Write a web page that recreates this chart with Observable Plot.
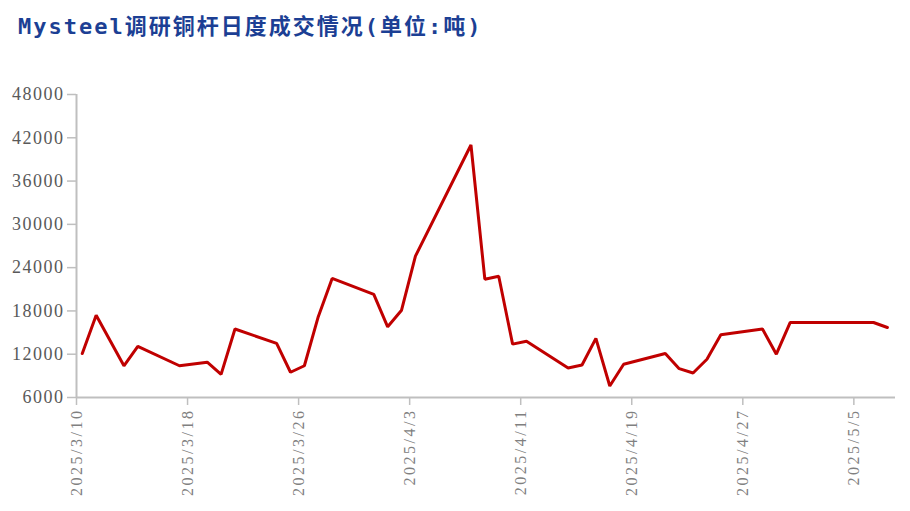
<!DOCTYPE html>
<html>
<head>
<meta charset="utf-8">
<script src="https://cdn.jsdelivr.net/npm/d3@7"></script>
<script src="https://cdn.jsdelivr.net/npm/@observablehq/plot@0.6"></script>
<style>
  html, body { margin: 0; padding: 0; background: #ffffff; }
  #wrap { width: 910px; height: 511px; position: relative; overflow: hidden; }
  #title {
    position: absolute; left: 18px; top: 8px;
    font-family: "DejaVu Sans Mono", "Noto Sans CJK SC", monospace;
    font-weight: bold; font-size: 22px; letter-spacing: 2px;
    color: #1c3f94; white-space: nowrap;
  }
  #chart { position: absolute; left: 0; top: 50px; }
</style>
</head>
<body>
<div id="wrap">
  <div id="title">Mysteel调研铜杆日度成交情况(单位:吨)</div>
  <div id="chart"></div>
</div>
<script>
const dates = ["2025-03-10","2025-03-11","2025-03-13","2025-03-14","2025-03-17","2025-03-19","2025-03-20","2025-03-21","2025-03-24","2025-03-25","2025-03-26","2025-03-27","2025-03-28","2025-03-31","2025-04-01","2025-04-02","2025-04-03","2025-04-07","2025-04-08","2025-04-09","2025-04-10","2025-04-11","2025-04-14","2025-04-15","2025-04-16","2025-04-17","2025-04-18","2025-04-21","2025-04-22","2025-04-23","2025-04-24","2025-04-25","2025-04-28","2025-04-29","2025-04-30","2025-05-06","2025-05-07"];
const volumes = [12100,17400,10400,13100,10400,10900,9200,15500,13500,9500,10400,17200,22500,20300,15800,18100,25600,41000,22400,22800,13400,13800,10100,10500,14200,7600,10600,12100,10000,9400,11300,14700,15500,12000,16400,16400,15700];
const xTickLabels = ["2025-03-10","2025-03-18","2025-03-26","2025-04-03","2025-04-11","2025-04-19","2025-04-27","2025-05-05"];
const xRange = ["2025-03-10","2025-05-08"];
const yTicks = [6000,12000,18000,24000,30000,36000,42000,48000];

const parse = d3.utcParse("%Y-%m-%d");
const HALF = 10 * 3600 * 1000; // points sit inside their day slot
const data = dates.map((d, i) => ({date: new Date(parse(d).getTime() + HALF), value: volumes[i]}));
const xDomain = xRange.map(parse);
const xTicks = xTickLabels.map(parse);

const serif = '"Times New Roman", "Liberation Serif", serif';
const axisGray = "#bfbfbf";

const chart = Plot.plot({
  width: 910,
  height: 461,
  marginLeft: 76,
  marginRight: 15,
  marginTop: 44,
  marginBottom: 114,
  style: {background: "#ffffff", fontFamily: serif},
  x: {type: "utc", domain: xDomain, label: null},
  y: {domain: [yTicks[0], yTicks[yTicks.length - 1]], label: null},
  marks: [
    Plot.axisY({ticks: yTicks, tickSize: 9, tickPadding: 3, tickFormat: d => String(d), label: null,
      stroke: axisGray, fill: "#595959", fontSize: 18, strokeWidth: 1.5}),
    Plot.axisX({ticks: xTicks, tickSize: 8, tickPadding: 3, tickRotate: -90, label: null,
      tickFormat: d3.utcFormat("%Y/%-m/%-d"), stroke: axisGray, fill: "#808080", fontSize: 16, strokeWidth: 1.5}),
    Plot.ruleY([yTicks[0]], {stroke: axisGray, strokeWidth: 2}),
    Plot.ruleX([xDomain[0]], {stroke: axisGray, strokeWidth: 2}),
    Plot.line(data, {x: "date", y: "value", stroke: "#c00000", strokeWidth: 3, strokeLinejoin: "miter"})
  ]
});
document.getElementById("chart").appendChild(chart);
d3.select(chart).selectAll('g[aria-label="x-axis tick label"] text').style("letter-spacing", "2.5px");
d3.select(chart).selectAll('g[aria-label="y-axis tick label"] text').style("letter-spacing", "1.5px");
</script>
</body>
</html>
